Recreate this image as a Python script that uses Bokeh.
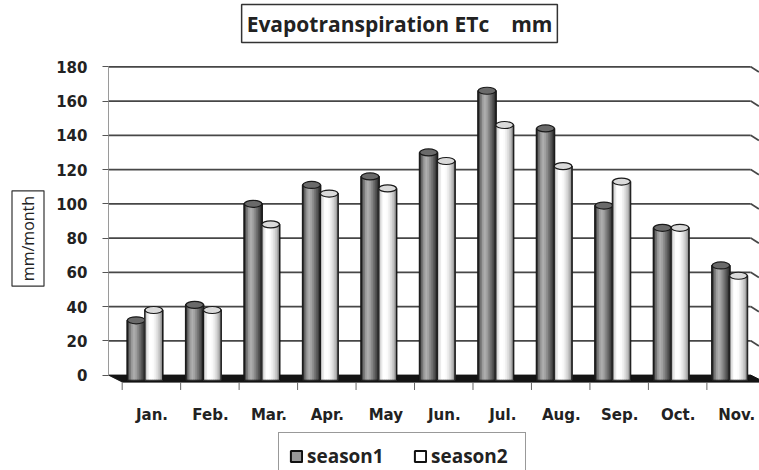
import numpy as np
from bokeh.plotting import figure
from bokeh.models import Range1d, FixedTicker, Label, Legend, LegendItem, ColumnDataSource
from bokeh.embed import file_html
from bokeh.resources import INLINE

# ---- data ----
months = ["Jan.", "Feb.", "Mar.", "Apr.", "May", "Jun.", "Jul.", "Aug.", "Sep.", "Oct.", "Nov."]
season1 = [32, 41, 100, 111, 116, 130, 166, 144, 99, 86, 64]
season2 = [38, 38, 88, 106, 109, 125, 146, 122, 113, 86, 58]
y_ticks = [0, 20, 40, 60, 80, 100, 120, 140, 160, 180]

n = len(months)
idx = np.arange(n, dtype=float)

# the frame covers the whole canvas; axes are pinned with fixed_location
XL, X0, X1 = -2.471, -0.624, 10.51
WALL_R = 10.36
FRONT = -4.1
p = figure(width=759, height=470, x_range=Range1d(XL, X1), y_range=Range1d(-55.7, 218.7),
           output_backend="svg", toolbar_location=None,
           min_border_left=0, min_border_right=0, min_border_top=0, min_border_bottom=0)
p.outline_line_color = None
p.xgrid.visible = False
p.ygrid.visible = False
p.background_fill_color = "white"

# back wall gridlines with perspective ends
g = y_ticks[1:]
p.segment(x0=[X0] * len(g), y0=g, x1=[WALL_R] * len(g), y1=g, line_color="#474747", line_width=1.7)
p.segment(x0=[WALL_R] * len(g), y0=g, x1=[WALL_R + 0.14] * len(g), y1=[v - 3 for v in g],
          line_color="#474747", line_width=1.7)

# floor
D = 0.24
p.patch([X0, WALL_R, WALL_R + D, X0 + D], [0, 0, FRONT, FRONT], fill_color="#141414", line_color="#141414")
# category boundary ticks on the floor's front edge
bx = [k - 0.5 + 0.11 for k in range(n + 1)]
p.segment(x0=bx, y0=[FRONT] * len(bx), x1=bx, y1=[FRONT - 4.6] * len(bx), line_color="#666666", line_width=1)

W = 0.3
shades1 = ["#444444", "#767676", "#9e9e9e", "#afafaf", "#a2a2a2", "#8a8a8a", "#707070", "#555555", "#383838"]
shades2 = ["#bdbdbd", "#e8e8e8", "#ffffff", "#ffffff", "#fbfbfb", "#eeeeee", "#dcdcdc", "#c4c4c4", "#a0a0a0"]


def draw_bars(vals, off, shades, base_fill, cap_fill):
    xs = idx + off
    src = ColumnDataSource(dict(x=xs, top=vals))
    base = p.vbar(x="x", top="top", bottom=-3, width=W, source=src,
                  fill_color=base_fill, line_color="#111111", line_width=2)
    ns = len(shades)
    for j, c in enumerate(shades):
        p.vbar(x=xs - W / 2 + (j + 0.5) * W / ns, top=vals, bottom=-3, width=W / ns,
               fill_color=c, line_color=c, line_width=0.6)
    p.vbar(x="x", top="top", bottom=-3, width=W, source=src, fill_color=None,
           line_color="#1a1a1a", line_width=1.2)
    p.ellipse(x="x", y="top", width=W, height=7, height_units="screen", source=src,
              fill_color=cap_fill, line_color="#1a1a1a", line_width=1.2)
    return base


b1 = draw_bars(season1, -0.15, shades1, "#999999", "#6a6a6a")
b2 = draw_bars(season2, 0.15, shades2, "#ffffff", "#dadada")

# axes
p.yaxis.ticker = FixedTicker(ticks=y_ticks)
p.yaxis.fixed_location = X0
p.yaxis.bounds = (0, 180)
p.yaxis.axis_line_color = "#9a9a9a"
p.yaxis.major_tick_in = 0
p.yaxis.major_tick_out = 6
p.yaxis.major_tick_line_color = "#555555"
p.yaxis.minor_tick_line_color = None
p.yaxis.major_label_text_font = "DejaVu Sans"
p.yaxis.major_label_text_font_style = "bold"
p.yaxis.major_label_text_font_size = "15px"
p.yaxis.major_label_text_color = "#222222"
p.yaxis.major_label_standoff = 15

xt = [i + 0.12 for i in range(n)]
p.xaxis.ticker = FixedTicker(ticks=xt)
p.xaxis.fixed_location = FRONT
p.xaxis.major_label_overrides = {t: m for t, m in zip(xt, months)}
p.xaxis.axis_line_color = None
p.xaxis.major_tick_line_color = None
p.xaxis.minor_tick_line_color = None
p.xaxis.major_tick_in = 0
p.xaxis.major_tick_out = 6
p.xaxis.major_label_text_font = "DejaVu Sans"
p.xaxis.major_label_text_font_style = "bold"
p.xaxis.major_label_text_font_size = "15px"
p.xaxis.major_label_text_color = "#222222"
p.xaxis.major_label_standoff = 18

# title box
title = Label(x=399, y=447, x_units="screen", y_units="screen",
              text="Evapotranspiration ETc \u00a0\u00a0\u00a0mm", text_align="center", text_baseline="middle",
              text_font="Open Sans", text_font_style="bold", text_font_size="21px", text_color="#222222",
              background_fill_color="white", border_line_color="#333333", border_line_width=1.5,
              padding=5)
p.add_layout(title)

ylab = Label(x=27.5, y=232, x_units="screen", y_units="screen", angle=np.pi / 2,
             text="mm/month", text_align="center", text_baseline="middle",
             text_font="Open Sans", text_font_size="16px", text_color="#222222",
             background_fill_color="white", border_line_color="#333333", border_line_width=1.2,
             padding=5)
p.add_layout(ylab)

legend = Legend(items=[LegendItem(label="season1", renderers=[b1]),
                       LegendItem(label="season2", renderers=[b2])],
                orientation="horizontal", location=(278, -10))
legend.label_text_font = "Open Sans"
legend.label_text_font_style = "bold"
legend.label_text_font_size = "19px"
legend.label_text_color = "#222222"
legend.glyph_width = 14
legend.glyph_height = 14
legend.label_standoff = 4
legend.label_width = 84
legend.spacing = 22
legend.padding = 10
legend.margin = 0
legend.border_line_color = "#333333"
legend.border_line_width = 1.5
legend.background_fill_alpha = 1
p.add_layout(legend, "center")

open("out.html", "w").write(file_html(p, INLINE))
